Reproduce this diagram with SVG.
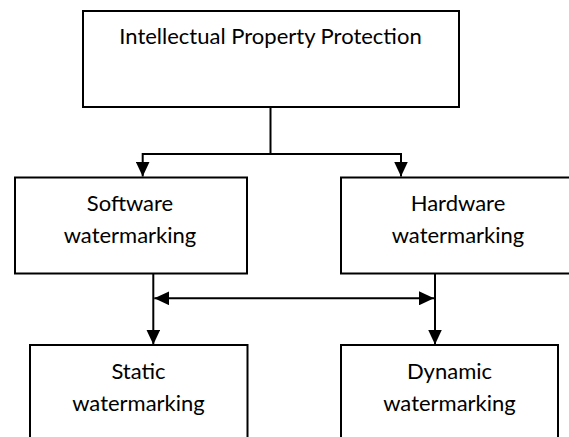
<svg xmlns="http://www.w3.org/2000/svg" width="569" height="437" viewBox="0 0 569 437">
  <style>
    .box { fill: #ffffff; stroke: #000000; stroke-width: 2; }
    .lbl { font-family: Lato, "Liberation Sans", sans-serif; font-size: 22px; fill: #000000; text-anchor: middle; }
    .conn { fill: none; stroke: #000000; stroke-width: 2; }
  </style>
  <defs>
    <marker id="arrow" viewBox="0 0 15 14" refX="15" refY="7" markerWidth="15" markerHeight="14" markerUnits="userSpaceOnUse" orient="auto-start-reverse">
      <path d="M0,0 L15,7 L0,14 Z" fill="#000000"/>
    </marker>
  </defs>
  <rect width="569" height="437" fill="#ffffff"/>

  <g id="ipp">
    <rect class="box" x="83" y="11" width="376" height="96"/>
    <text class="lbl" x="270.5" y="44">Intellectual Property Protection</text>
  </g>
  <g id="software">
    <rect class="box" x="15" y="177.5" width="232" height="96"/>
    <text class="lbl" x="130" y="211">Software</text>
    <text class="lbl" x="130" y="243">watermarking</text>
  </g>
  <g id="hardware">
    <rect class="box" x="341" y="177.5" width="234" height="96"/>
    <text class="lbl" x="458" y="211">Hardware</text>
    <text class="lbl" x="458" y="243">watermarking</text>
  </g>
  <g id="static">
    <rect class="box" x="30" y="345" width="217.5" height="110"/>
    <text class="lbl" x="138.5" y="379">Static</text>
    <text class="lbl" x="138.5" y="411">watermarking</text>
  </g>
  <g id="dynamic">
    <rect class="box" x="341" y="345" width="217" height="110"/>
    <text class="lbl" x="449.5" y="379">Dynamic</text>
    <text class="lbl" x="449.5" y="411">watermarking</text>
  </g>

  <g id="connectors">
    <line class="conn" x1="270.5" y1="107" x2="270.5" y2="154"/>
    <polyline class="conn" points="142.7,176.5 142.7,154 401,154 401,176.5" marker-start="url(#arrow)" marker-end="url(#arrow)"/>
    <line class="conn" x1="153.3" y1="273.5" x2="153.3" y2="344.5" marker-end="url(#arrow)"/>
    <line class="conn" x1="435" y1="273.5" x2="435" y2="344.5" marker-end="url(#arrow)"/>
    <line class="conn" x1="154.3" y1="298.3" x2="434" y2="298.3" marker-start="url(#arrow)" marker-end="url(#arrow)"/>
  </g>
</svg>
